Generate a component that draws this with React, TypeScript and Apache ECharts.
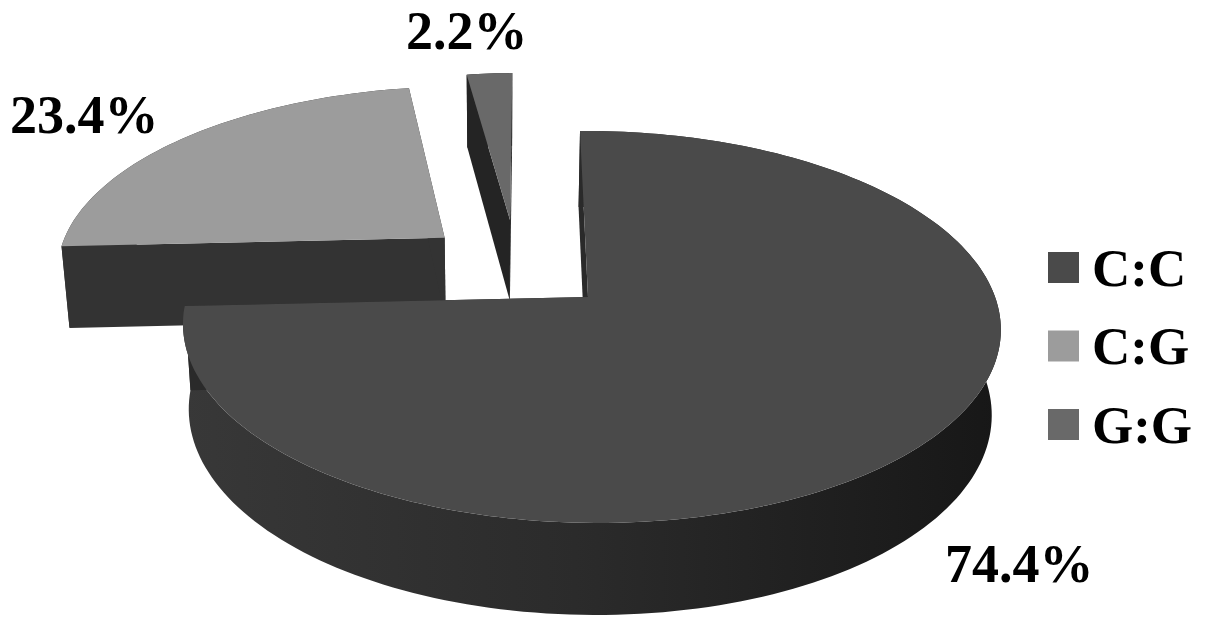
import React, { useEffect, useRef } from "react";
import * as echarts from "echarts";

const genotypes = ["C:C", "C:G", "G:G"];
const percents = [74.4, 23.4, 2.2];
const faceColors = ["#4a4a4a", "#9c9c9c", "#696969"];
const wallColors = ["#2a2a2a", "#333333", "#242424"];

// plane offset of every slice from the pie centre (exploded layout)
const explodeU = [0, -0.366, -0.196];
const explodeV = [0, 0.329, 0.429];
const labelX = [945, 10, 406];
const labelY = [564, 115, 31];
const drawOrder = [1, 2, 0];

const FONT = '"Liberation Serif", "Times New Roman", serif';

// perspective projection of the pie's plane on the page
const project = (u: number, v: number): [number, number] => {
  const w = 1 + 0.153 * v - 0.006 * u;
  return [588 + (404 * u - 9.2 * v) / w, 297 + (-1.8 * u - 191.4 * v) / w];
};
const sink = (u: number, v: number): [number, number] => {
  const [x, y] = project(u, v);
  return [x + (500 - x) * 0.0182, y + 84 - 8 * v];
};

const arc = (i: number, a0: number, a1: number, fn: typeof project) => {
  const pts: [number, number][] = [];
  const n = Math.max(8, Math.round((a1 - a0) * 40));
  for (let k = 0; k <= n; k++) {
    const a = a0 + ((a1 - a0) * k) / n;
    pts.push(fn(explodeU[i] + Math.sin(a), explodeV[i] + Math.cos(a)));
  }
  return pts;
};

const renderSlice = (i: number) => (_params: any, api: any) => {
  const total = percents.reduce((s, p) => s + p, 0);
  const before = percents.slice(0, i).reduce((s, p) => s + p, 0);
  const a0 = (before / total) * Math.PI * 2;
  const a1 = a0 + (api.value(0) / total) * Math.PI * 2;
  const topRim = arc(i, a0, a1, project);
  const lowRim = arc(i, a0, a1, sink);
  const apex = project(explodeU[i], explodeV[i]);
  const lowApex = sink(explodeU[i], explodeV[i]);
  const side =
    i === 0
      ? {
          type: "linear",
          x: 0,
          y: 0,
          x2: 1,
          y2: 0,
          colorStops: [
            { offset: 0, color: "#383838" },
            { offset: 0.48, color: "#2b2b2b" },
            { offset: 1, color: "#171717" },
          ],
        }
      : wallColors[i];
  const poly = (points: number[][], fill: any) => ({
    type: "polygon",
    shape: { points },
    style: { fill },
  });
  return {
    type: "group",
    children: [
      poly([...topRim, ...lowRim.slice().reverse()], side),
      poly([apex, topRim[0], lowRim[0], lowApex], wallColors[i]),
      poly([apex, topRim[topRim.length - 1], lowRim[lowRim.length - 1], lowApex], wallColors[i]),
      poly([apex, ...topRim], faceColors[i]),
      {
        type: "text",
        x: labelX[i],
        y: labelY[i],
        z2: 10,
        style: {
          text: `${percents[i]}%`,
          font: `bold 54px ${FONT}`,
          fill: "#000000",
          textAlign: "left",
          textVerticalAlign: "middle",
        },
      },
    ],
  };
};

export default function App() {
  const ref = useRef<HTMLDivElement>(null);
  useEffect(() => {
    const chart = echarts.init(ref.current!, undefined, { renderer: "svg" });
    chart.setOption({
      animation: false,
      backgroundColor: "#ffffff",
      legend: {
        data: genotypes,
        orient: "vertical",
        left: 1043,
        top: 236,
        itemWidth: 31,
        itemHeight: 31,
        itemGap: 25.5,
        icon: "rect",
        textStyle: {
          fontFamily: FONT,
          fontWeight: "bold",
          fontSize: 53,
          lineHeight: 52,
          color: "#000000",
          padding: [0, 0, 0, 8],
        },
      },
      series: drawOrder.map((i) => ({
        type: "custom",
        name: genotypes[i],
        coordinateSystem: "none",
        silent: true,
        itemStyle: { color: faceColors[i] },
        data: [[percents[i]]],
        renderItem: renderSlice(i),
      })),
    });
    return () => chart.dispose();
  }, []);
  return (
    <div
      ref={ref}
      style={{ position: "fixed", left: 0, top: 0, width: 1205, height: 631 }}
    />
  );
}
